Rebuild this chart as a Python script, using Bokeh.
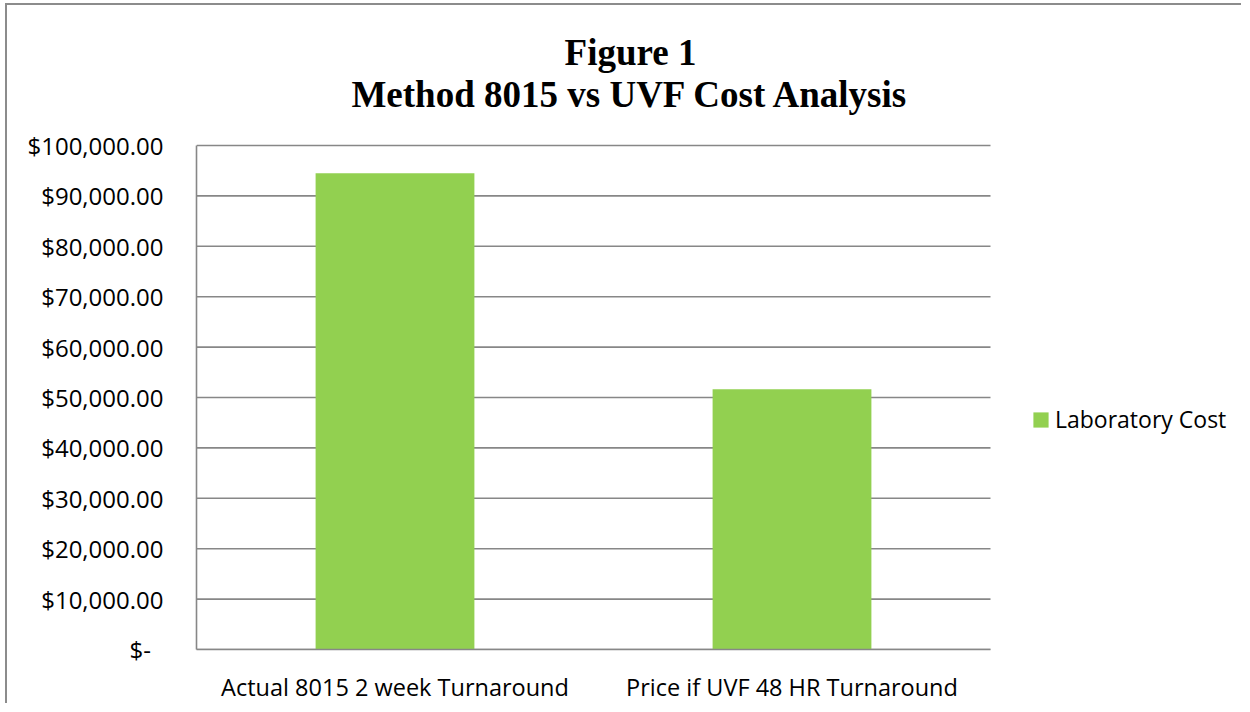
from bokeh.plotting import figure
from bokeh.models import (Range1d, FixedTicker, CustomJSTickFormatter,
                          Legend, LegendItem, Label, ColumnDataSource)
from bokeh.embed import file_html
from bokeh.resources import INLINE

categories = ["Actual 8015 2 week Turnaround", "Price if UVF 48 HR Turnaround"]
costs = [94500, 51650]
y_ticks = [0, 10000, 20000, 30000, 40000, 50000, 60000, 70000, 80000, 90000, 100000]
series_name = "Laboratory Cost"
title_lines = ["Figure 1", "Method 8015 vs UVF Cost Analysis"]

GRID = "#878787"
BAR = "#92d050"
FONT = "Open Sans"

# layout (pixels)
W, H = 1236, 700
LEFT, BOTTOM = 189, 56
PLOT_W, PLOT_H = 794, 504          # visible chart area (axes extent)
FRAME_W, FRAME_H = W - LEFT, H - BOTTOM

n = len(categories)
xs = [i + 0.5 for i in range(n)]
y_max = y_ticks[-1]

src = ColumnDataSource(dict(x=xs, cost=costs))

p = figure(width=W, height=H,
           x_range=Range1d(0, n * FRAME_W / PLOT_W),
           y_range=Range1d(0, y_max * FRAME_H / PLOT_H),
           output_backend="svg", toolbar_location=None,
           min_border_left=LEFT, min_border_right=0, min_border_top=0,
           min_border_bottom=BOTTOM, title=None)
p.styles = {"border-left": "2px solid #8c8c8c", "border-top": "2px solid #8c8c8c",
            "margin-left": "5px", "margin-top": "3px"}
p.outline_line_color = None
p.xgrid.grid_line_color = None
p.ygrid.grid_line_color = None

# horizontal gridlines across the chart area
p.segment(x0=[0] * len(y_ticks), x1=[n] * len(y_ticks), y0=y_ticks, y1=y_ticks,
          line_color=GRID, line_width=1.6)

r = p.vbar(x="x", top="cost", width=0.4, source=src, fill_color=BAR, line_color=None)

p.yaxis.ticker = FixedTicker(ticks=y_ticks)
p.yaxis.bounds = (0, y_max)
p.yaxis.formatter = CustomJSTickFormatter(code="""
if (tick == 0) { return "$-\\u00a0\\u00a0"; }
return "$" + tick.toLocaleString("en-US", {minimumFractionDigits: 2, maximumFractionDigits: 2});
""")
p.xaxis.ticker = FixedTicker(ticks=xs)
p.xaxis.bounds = (0, n)
p.xaxis.major_label_overrides = {x: c for x, c in zip(xs, categories)}
for ax in (p.xaxis, p.yaxis):
    ax.axis_line_color = GRID
    ax.axis_line_width = 1.6
    ax.major_tick_line_color = None
    ax.minor_tick_line_color = None
    ax.major_label_text_font = FONT
    ax.major_label_text_color = "#000000"
p.yaxis.major_label_text_font_size = "24px"
p.xaxis.major_label_text_font_size = "23.5px"
p.yaxis.major_label_standoff = 27
p.xaxis.major_label_standoff = 15

legend = Legend(items=[LegendItem(label=series_name, renderers=[r])],
                location=(835, 214), padding=0, margin=0,
                border_line_color=None, background_fill_alpha=0,
                glyph_width=19, glyph_height=19, label_standoff=5,
                label_text_font=FONT, label_text_font_size="23px",
                label_text_color="#000000")
p.add_layout(legend, "center")

for txt, sy in zip(title_lines, [597, 555]):
    p.add_layout(Label(x=434, y=sy, x_units="screen", y_units="screen", text=txt,
                       text_align="center", text_baseline="middle",
                       text_font="Liberation Serif", text_font_size="37px",
                       text_font_style="bold", text_color="#000000"))

open("out.html", "w").write(file_html(p, INLINE))
